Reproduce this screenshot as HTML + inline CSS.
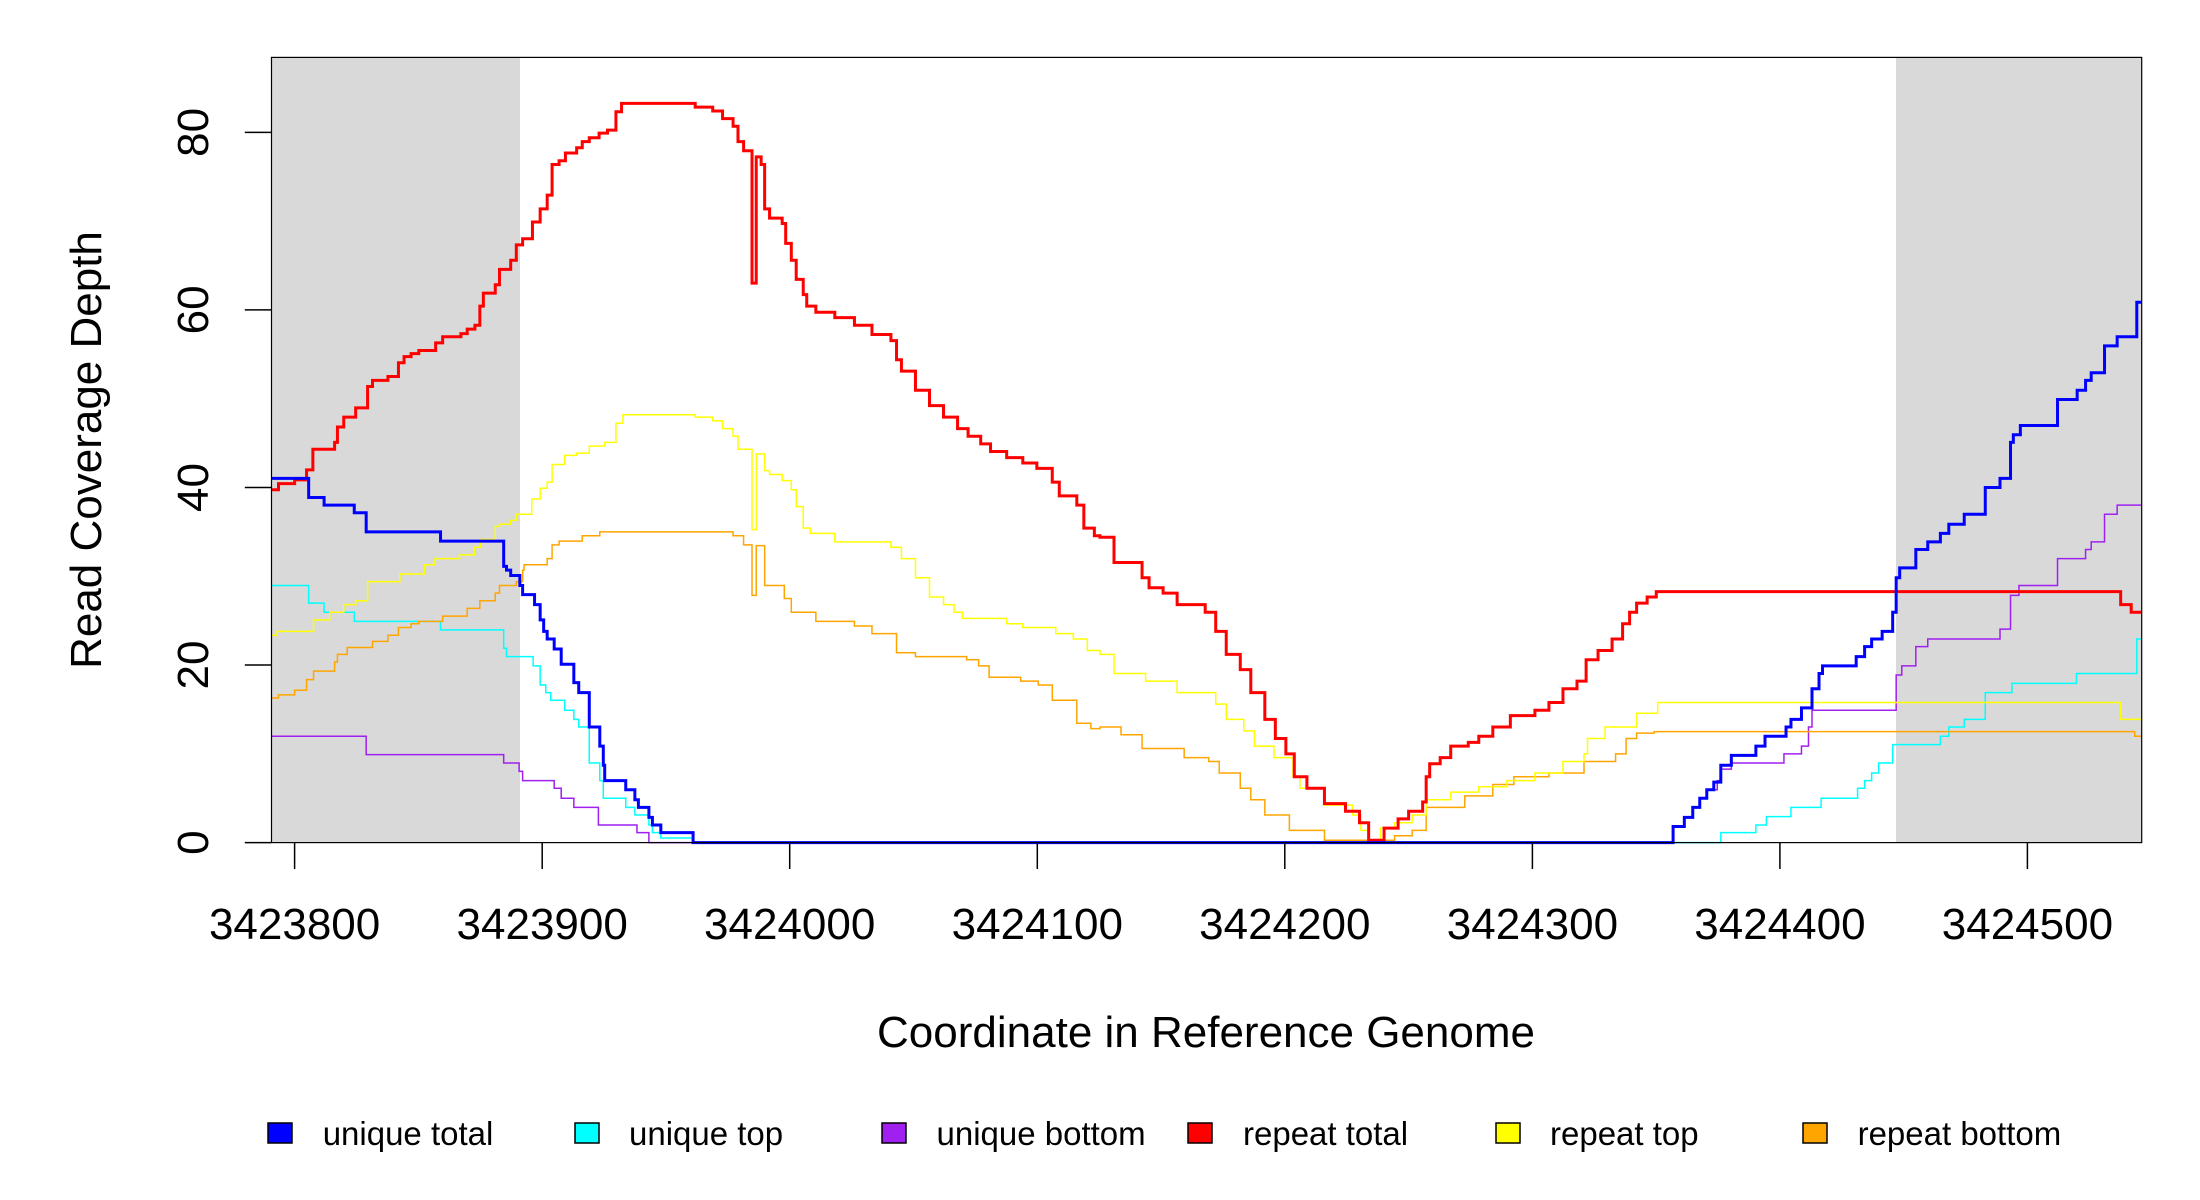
<!DOCTYPE html>
<html><head><meta charset="utf-8"><style>
html,body{margin:0;padding:0;background:#fff;}
svg{display:block;}
text{font-family:"Liberation Sans",Arial,sans-serif;fill:#000;}
</style></head><body>
<svg width="2200" height="1200" viewBox="0 0 2200 1200" xmlns="http://www.w3.org/2000/svg">
<rect x="0" y="0" width="2200" height="1200" fill="#fff"/>
<rect x="271.5" y="57.4" width="248.5" height="785.2" fill="#d9d9d9"/>
<rect x="1896" y="57.4" width="245.7" height="785.2" fill="#d9d9d9"/>
<g transform="scale(0.70151,0.76531)" fill="none" stroke-linejoin="miter">
<path vector-effect="non-scaling-stroke" stroke="#a020f0" stroke-width="1.5" d="M387 962 H522 V986 H718 V997 H740 V1008 H745 V1020 H790 V1030 H800 V1043 H818 V1055 H853 V1078 H908 V1088 H925 V1101 H2385 V1080 H2401 V1068 H2413 V1055 H2423 V1043 H2433 V1032 H2448 V1020 H2453 V1005 H2468 V997 H2543 V985 H2568 V975 H2578 V950 H2583 V928 H2703 V882 H2711 V870 H2731 V845 H2748 V835 H2851 V822 H2866 V778 H2878 V765 H2933 V730 H2973 V718 H2981 V708 H3000 V672 H3018 V660 H3053"/>
<path vector-effect="non-scaling-stroke" stroke="#00ffff" stroke-width="1.5" d="M387 765 H440 V788 H462 V800 H505 V812 H628 V823 H718 V847 H722 V858 H760 V870 H770 V895 H778 V905 H785 V915 H805 V928 H818 V940 H825 V950 H840 V997 H855 V1020 H860 V1043 H892 V1055 H905 V1065 H925 V1078 H930 V1088 H942 V1095 H988 V1101 H2453 V1088 H2503 V1078 H2518 V1067 H2553 V1055 H2596 V1043 H2648 V1030 H2658 V1020 H2668 V1010 H2678 V997 H2698 V973 H2766 V962 H2778 V950 H2800 V940 H2830 V905 H2868 V893 H2960 V880 H3046 V835 H3053"/>
<path vector-effect="non-scaling-stroke" stroke="#ffa500" stroke-width="1.5" d="M387 912 H397 V908 H420 V902 H437 V888 H447 V877 H477 V865 H481 V855 H495 V846 H531 V838 H553 V830 H568 V820 H586 V815 H597 V812 H631 V805 H666 V795 H684 V785 H706 V775 H712 V765 H736 V760 H745 V745 H747 V738 H780 V730 H787 V712 H797 V707 H830 V700 H855 V695 H1045 V700 H1060 V712 H1072 V778 H1078 V713 H1090 V765 H1118 V782 H1128 V800 H1163 V812 H1218 V818 H1243 V828 H1278 V853 H1305 V858 H1378 V862 H1395 V870 H1410 V885 H1455 V890 H1480 V895 H1500 V915 H1535 V945 H1555 V952 H1568 V950 H1598 V960 H1628 V978 H1688 V990 H1723 V995 H1738 V1010 H1768 V1030 H1783 V1045 H1803 V1065 H1838 V1085 H1888 V1098 H1963 V1098 H1988 V1092 H2013 V1085 H2033 V1055 H2088 V1040 H2128 V1025 H2158 V1015 H2208 V1010 H2258 V995 H2303 V985 H2318 V965 H2333 V958 H2358 V956 H3043 V962 H3053"/>
<path vector-effect="non-scaling-stroke" stroke="#ffff00" stroke-width="1.5" d="M387 830 H395 V825 H447 V810 H470 V800 H490 V790 H507 V785 H524 V760 H570 V750 H605 V738 H620 V730 H655 V725 H676 V715 H685 V705 H706 V688 H712 V685 H728 V680 H736 V672 H758 V652 H770 V638 H780 V630 H787 V607 H805 V595 H822 V592 H840 V583 H862 V578 H878 V553 H888 V542 H991 V545 H1016 V550 H1030 V560 H1045 V570 H1052 V587 H1072 V692 H1078 V593 H1090 V615 H1097 V620 H1115 V628 H1128 V640 H1135 V662 H1145 V690 H1155 V697 H1190 V708 H1270 V715 H1285 V730 H1305 V755 H1325 V780 H1345 V790 H1360 V800 H1372 V808 H1435 V815 H1458 V820 H1505 V828 H1530 V835 H1550 V850 H1568 V855 H1588 V880 H1633 V890 H1678 V905 H1733 V920 H1748 V940 H1773 V955 H1788 V975 H1816 V990 H1843 V1015 H1853 V1030 H1888 V1052 H1928 V1065 H1940 V1085 H1951 V1098 H1968 V1082 H1988 V1075 H2013 V1065 H2033 V1045 H2068 V1035 H2108 V1028 H2148 V1020 H2188 V1010 H2228 V995 H2258 V985 H2263 V965 H2288 V950 H2333 V932 H2363 V918 H3023 V940 H3053"/>
<path vector-effect="non-scaling-stroke" stroke="#ff0000" stroke-width="3" d="M387 640 H397 V632 H420 V627 H437 V614 H446 V587 H477 V578 H481 V558 H490 V545 H507 V533 H524 V505 H531 V497 H553 V492 H568 V474 H576 V466 H586 V462 H597 V458 H621 V448 H631 V440 H657 V436 H666 V430 H677 V425 H684 V400 H689 V383 H706 V372 H712 V352 H728 V340 H736 V320 H745 V312 H759 V290 H770 V273 H780 V255 H787 V215 H797 V210 H806 V200 H822 V193 H830 V185 H840 V180 H854 V174 H866 V170 H878 V146 H886 V135 H991 V140 H1016 V145 H1030 V155 H1045 V165 H1052 V185 H1060 V197 H1072 V370 H1078 V205 H1085 V215 H1090 V273 H1097 V285 H1115 V292 H1120 V318 H1128 V340 H1135 V365 H1145 V385 H1150 V400 H1163 V408 H1190 V415 H1218 V425 H1243 V437 H1270 V445 H1278 V470 H1285 V485 H1305 V510 H1325 V530 H1345 V545 H1365 V560 H1380 V570 H1398 V580 H1412 V590 H1435 V598 H1458 V605 H1478 V612 H1500 V630 H1510 V648 H1535 V660 H1545 V690 H1560 V700 H1568 V702 H1588 V735 H1628 V755 H1638 V768 H1658 V775 H1678 V790 H1718 V800 H1733 V825 H1748 V855 H1768 V875 H1783 V905 H1803 V940 H1818 V965 H1833 V985 H1845 V1015 H1863 V1030 H1888 V1050 H1918 V1060 H1938 V1075 H1951 V1098 H1963 V1098 H1973 V1082 H1993 V1070 H2008 V1060 H2028 V1048 H2033 V1015 H2038 V998 H2053 V990 H2068 V975 H2093 V970 H2108 V962 H2128 V950 H2153 V935 H2188 V928 H2208 V918 H2228 V900 H2248 V890 H2261 V862 H2278 V850 H2298 V835 H2313 V815 H2323 V800 H2333 V788 H2348 V780 H2361 V773 H3023 V790 H3038 V800 H3053"/>
<path vector-effect="non-scaling-stroke" stroke="#0000ff" stroke-width="3" d="M387 625 H440 V650 H462 V660 H505 V670 H522 V695 H628 V707 H718 V740 H722 V745 H728 V752 H741 V765 H745 V777 H762 V790 H770 V810 H775 V825 H780 V835 H790 V848 H800 V868 H818 V892 H825 V905 H840 V950 H855 V975 H860 V1000 H862 V1020 H892 V1032 H905 V1045 H910 V1055 H925 V1068 H930 V1078 H942 V1088 H988 V1101 H2385 V1080 H2401 V1068 H2413 V1055 H2423 V1043 H2433 V1032 H2443 V1022 H2453 V1000 H2468 V987 H2503 V975 H2516 V962 H2546 V950 H2553 V940 H2568 V925 H2583 V900 H2593 V880 H2598 V870 H2646 V858 H2658 V845 H2668 V835 H2683 V825 H2698 V800 H2703 V755 H2708 V742 H2731 V718 H2748 V708 H2766 V697 H2778 V685 H2800 V672 H2830 V637 H2851 V625 H2866 V578 H2870 V568 H2880 V556 H2933 V522 H2961 V510 H2973 V497 H2981 V487 H3000 V452 H3018 V440 H3046 V395 H3053"/>
</g>
<rect x="271.5" y="57.4" width="1870.2" height="785.2" fill="none" stroke="#000" stroke-width="1.2"/>
<g stroke="#000" stroke-width="1.5">
<line x1="244.8" y1="842.6" x2="271.5" y2="842.6"/>
<line x1="244.8" y1="665" x2="271.5" y2="665"/>
<line x1="244.8" y1="487.5" x2="271.5" y2="487.5"/>
<line x1="244.8" y1="309.9" x2="271.5" y2="309.9"/>
<line x1="244.8" y1="132.4" x2="271.5" y2="132.4"/>
<line x1="294.6" y1="842.6" x2="294.6" y2="869"/>
<line x1="542.2" y1="842.6" x2="542.2" y2="869"/>
<line x1="789.7" y1="842.6" x2="789.7" y2="869"/>
<line x1="1037.3" y1="842.6" x2="1037.3" y2="869"/>
<line x1="1284.8" y1="842.6" x2="1284.8" y2="869"/>
<line x1="1532.4" y1="842.6" x2="1532.4" y2="869"/>
<line x1="1779.9" y1="842.6" x2="1779.9" y2="869"/>
<line x1="2027.4" y1="842.6" x2="2027.4" y2="869"/>
</g>
<g font-size="44" text-anchor="middle">
<text x="294.6" y="939">3423800</text>
<text x="542.2" y="939">3423900</text>
<text x="789.7" y="939">3424000</text>
<text x="1037.3" y="939">3424100</text>
<text x="1284.8" y="939">3424200</text>
<text x="1532.4" y="939">3424300</text>
<text x="1779.9" y="939">3424400</text>
<text x="2027.4" y="939">3424500</text>
<text transform="translate(208,842.6) rotate(-90)">0</text>
<text transform="translate(208,665) rotate(-90)">20</text>
<text transform="translate(208,487.5) rotate(-90)">40</text>
<text transform="translate(208,309.9) rotate(-90)">60</text>
<text transform="translate(208,132.4) rotate(-90)">80</text>
<text transform="translate(101,450) rotate(-90)">Read Coverage Depth</text>
<text x="1206" y="1047">Coordinate in Reference Genome</text>
</g>
<g stroke="#000" stroke-width="1.5">
<rect x="268" y="1123" width="24" height="20" fill="#0000ff"/>
<rect x="575" y="1123" width="24" height="20" fill="#00ffff"/>
<rect x="882" y="1123" width="24" height="20" fill="#a020f0"/>
<rect x="1188" y="1123" width="24" height="20" fill="#ff0000"/>
<rect x="1496" y="1123" width="24" height="20" fill="#ffff00"/>
<rect x="1803" y="1123" width="24" height="20" fill="#ffa500"/>
</g>
<g font-size="33">
<text x="322.7" y="1145">unique total</text>
<text x="629" y="1145">unique top</text>
<text x="936.5" y="1145">unique bottom</text>
<text x="1243" y="1145">repeat total</text>
<text x="1550" y="1145">repeat top</text>
<text x="1857.6" y="1145">repeat bottom</text>
</g>
</svg>
</body></html>
